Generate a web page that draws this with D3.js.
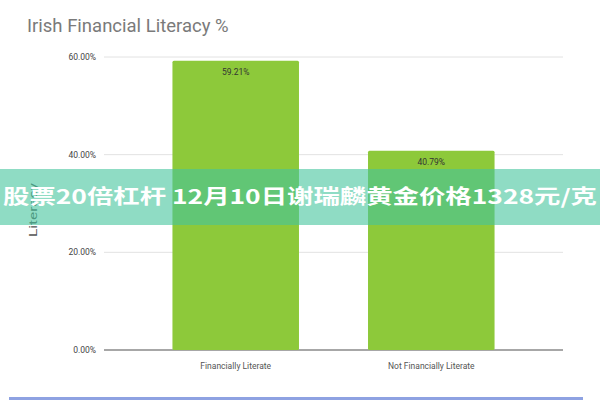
<!DOCTYPE html>
<html><head><meta charset="utf-8">
<script src="https://cdn.jsdelivr.net/npm/d3@7"></script>
<style>html,body{margin:0;padding:0;background:#fff;}svg{display:block;}</style>
</head><body>
<svg id="c" width="600" height="400"></svg>
<script>
const categories = ["Financially Literate", "Not Financially Literate"];
const values = [59.21, 40.79];
const valueLabels = ["59.21%", "40.79%"];
const yTicks = [0, 20, 40, 60];
const yTickLabels = ["0.00%", "20.00%", "40.00%", "60.00%"];
const title = "Irish Financial Literacy %";
const yTitle = "Literacy";
const banner = "股票20倍杠杆 12月10日谢瑞麟黄金价格1328元/克";

const svg = d3.select("#c");
const x = d3.scaleBand().domain(categories).range([104, 563]).paddingInner(0.353).paddingOuter(0.35);
const y = d3.scaleLinear().domain([0, 60]).range([350, 57]);

svg.append("text").attr("x", 27).attr("y", 32).attr("fill", "#7a7a7a")
  .attr("font-family", "Roboto, 'Open Sans', sans-serif").attr("font-size", 18.5).text(title);

// gridlines
svg.append("g").selectAll("line").data(yTicks).join("line")
  .attr("x1", 104).attr("x2", 563).attr("y1", d => y(d)).attr("y2", d => y(d))
  .attr("stroke", d => d === 0 ? "#8a8a8a" : "#e2e2e2").attr("stroke-width", d => d === 0 ? 1.3 : 1);

svg.append("g").selectAll("text").data(yTicks).join("text")
  .attr("x", 96).attr("y", d => y(d) + 3).attr("text-anchor", "end")
  .attr("font-family", "Roboto, sans-serif").attr("font-size", 8.5).attr("fill", "#444")
  .text((d, i) => yTickLabels[i]);

svg.append("text").attr("transform", `translate(37,210) rotate(-90)`).attr("text-anchor", "middle")
  .attr("font-family", "Roboto, sans-serif").attr("font-size", 10).attr("fill", "#555")
  .attr("textLength", 54).attr("lengthAdjust", "spacingAndGlyphs").text(yTitle);

svg.append("g").selectAll("rect").data(values).join("rect")
  .attr("x", (d, i) => x(categories[i])).attr("width", x.bandwidth())
  .attr("y", d => y(d)).attr("height", d => y(0) - y(d)).attr("rx", 1.5)
  .attr("fill", "#8dc93a");

svg.append("g").selectAll("text").data(values).join("text")
  .attr("x", (d, i) => x(categories[i]) + x.bandwidth() / 2).attr("y", d => y(d) + 14)
  .attr("text-anchor", "middle").attr("font-family", "Roboto, sans-serif").attr("font-size", 8.5)
  .attr("fill", "#333").text((d, i) => valueLabels[i]);

svg.append("g").selectAll("text").data(categories).join("text")
  .attr("x", d => x(d) + x.bandwidth() / 2).attr("y", 369).attr("text-anchor", "middle")
  .attr("font-family", "Roboto, sans-serif").attr("font-size", 8.5).attr("fill", "#555").text(d => d);

// banner overlay
svg.append("rect").attr("x", 0).attr("y", 169).attr("width", 600).attr("height", 56)
  .attr("fill", "rgb(68,197,157)").attr("fill-opacity", 0.6);
svg.append("text").attr("x", 300).attr("y", 204).attr("text-anchor", "middle")
  .attr("font-family", "'Noto Sans CJK SC', sans-serif").attr("font-weight", "bold")
  .attr("font-size", 20).attr("textLength", 594).attr("lengthAdjust", "spacingAndGlyphs")
  .attr("fill", "#fff").text(banner);

// bottom line
svg.append("rect").attr("x", 9).attr("y", 397).attr("width", 574).attr("height", 3).attr("fill", "#8ea2e2");
</script>
</body></html>
